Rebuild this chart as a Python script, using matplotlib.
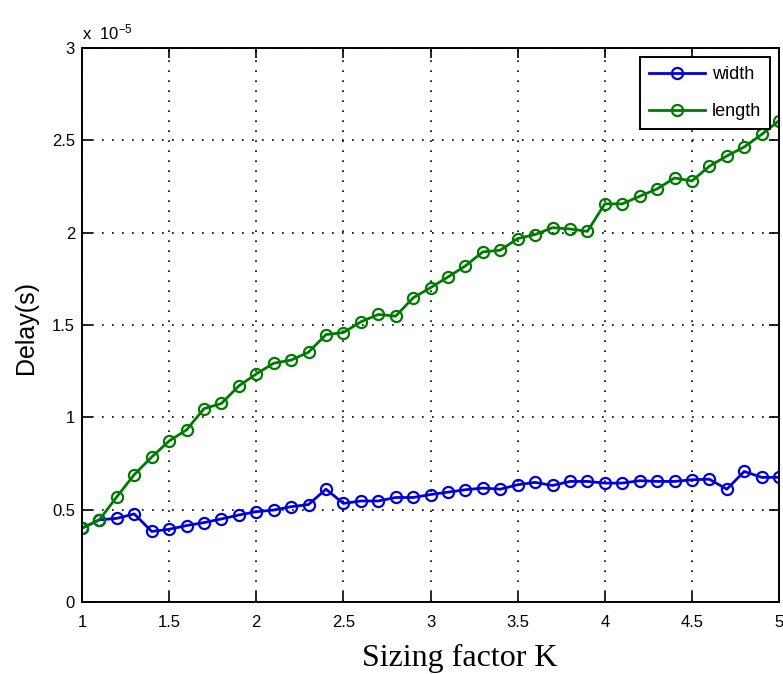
import matplotlib
matplotlib.use("Agg")
import matplotlib.pyplot as plt
import numpy as np
from matplotlib.ticker import FuncFormatter, MultipleLocator

K = [1.0, 1.1, 1.2, 1.3, 1.4, 1.5, 1.6, 1.7, 1.8, 1.9, 2.0,
     2.1, 2.2, 2.3, 2.4, 2.5, 2.6, 2.7, 2.8, 2.9, 3.0,
     3.1, 3.2, 3.3, 3.4, 3.5, 3.6, 3.7, 3.8, 3.9, 4.0,
     4.1, 4.2, 4.3, 4.4, 4.5, 4.6, 4.7, 4.8, 4.9, 5.0]

# values in units of 1e-5 s
width = [0.40, 0.445, 0.453, 0.477, 0.382, 0.394, 0.414, 0.43, 0.45, 0.471, 0.489,
         0.498, 0.516, 0.528, 0.611, 0.534, 0.547, 0.547, 0.566, 0.566, 0.582,
         0.595, 0.608, 0.617, 0.611, 0.635, 0.648, 0.631, 0.653, 0.653, 0.644,
         0.644, 0.657, 0.653, 0.653, 0.662, 0.665, 0.611, 0.707, 0.675, 0.675]
length = [0.40, 0.445, 0.57, 0.69, 0.785, 0.872, 0.932, 1.047, 1.075, 1.17, 1.235,
          1.293, 1.31, 1.353, 1.448, 1.459, 1.517, 1.557, 1.548, 1.647, 1.702,
          1.76, 1.82, 1.896, 1.905, 1.968, 1.99, 2.027, 2.02, 2.007, 2.156,
          2.156, 2.197, 2.237, 2.296, 2.28, 2.36, 2.415, 2.464, 2.532, 2.607]

scale = 1e-5
w = np.array(width) * scale
l = np.array(length) * scale

plt.rcParams['font.family'] = ['Liberation Sans', 'DejaVu Sans']
plt.rcParams['mathtext.default'] = 'regular'
fig = plt.figure(figsize=(7.83, 6.74), dpi=100)
ax = fig.add_axes([0.1047, 0.1068, 0.8903, 0.822])

ax.plot(K, w, color='#0000dd', lw=2, marker='o', ms=8, mfc='none', mew=1.6, label='width')
ax.plot(K, l, color='#007a00', lw=2, marker='o', ms=8, mfc='none', mew=1.6, label='length')

ax.set_xlim(1, 5)
ax.set_ylim(0, 3e-5)
ax.xaxis.set_major_locator(MultipleLocator(0.5))
ax.yaxis.set_major_locator(MultipleLocator(0.5e-5))
ax.xaxis.set_major_formatter(FuncFormatter(lambda v, p: f"{v:g}"))
ax.yaxis.set_major_formatter(FuncFormatter(lambda v, p: f"{round(v/scale, 2):g}"))
ax.tick_params(direction='in', top=True, right=True, labelsize=12, length=7, width=1.2)
ax.tick_params(axis='x', pad=9)
ax.tick_params(axis='y', pad=5)
ax.grid(True, linestyle=(0, (1, 5)), color='black', linewidth=1.2)
for s in ax.spines.values():
    s.set_linewidth(1.4)

ax.text(0.0, 1.01, r'x  $10^{-5}$', transform=ax.transAxes, fontsize=12,
        ha='left', va='bottom')
ax.set_ylabel('Delay(s)', fontsize=18)
ax.yaxis.set_label_coords(-0.063, 0.495)
ax.set_xlabel('Sizing factor K', fontsize=23, family=['Liberation Serif', 'DejaVu Serif'])
ax.xaxis.set_label_coords(0.5416, -0.075)

leg = ax.legend(loc='upper right', fontsize=13, fancybox=False, edgecolor='black',
                framealpha=1, borderaxespad=0.5, handlelength=3.1, labelspacing=1.1,
                handletextpad=0.4, borderpad=0.5)
leg.get_frame().set_linewidth(1.4)

fig.savefig('out.png', dpi=100)
